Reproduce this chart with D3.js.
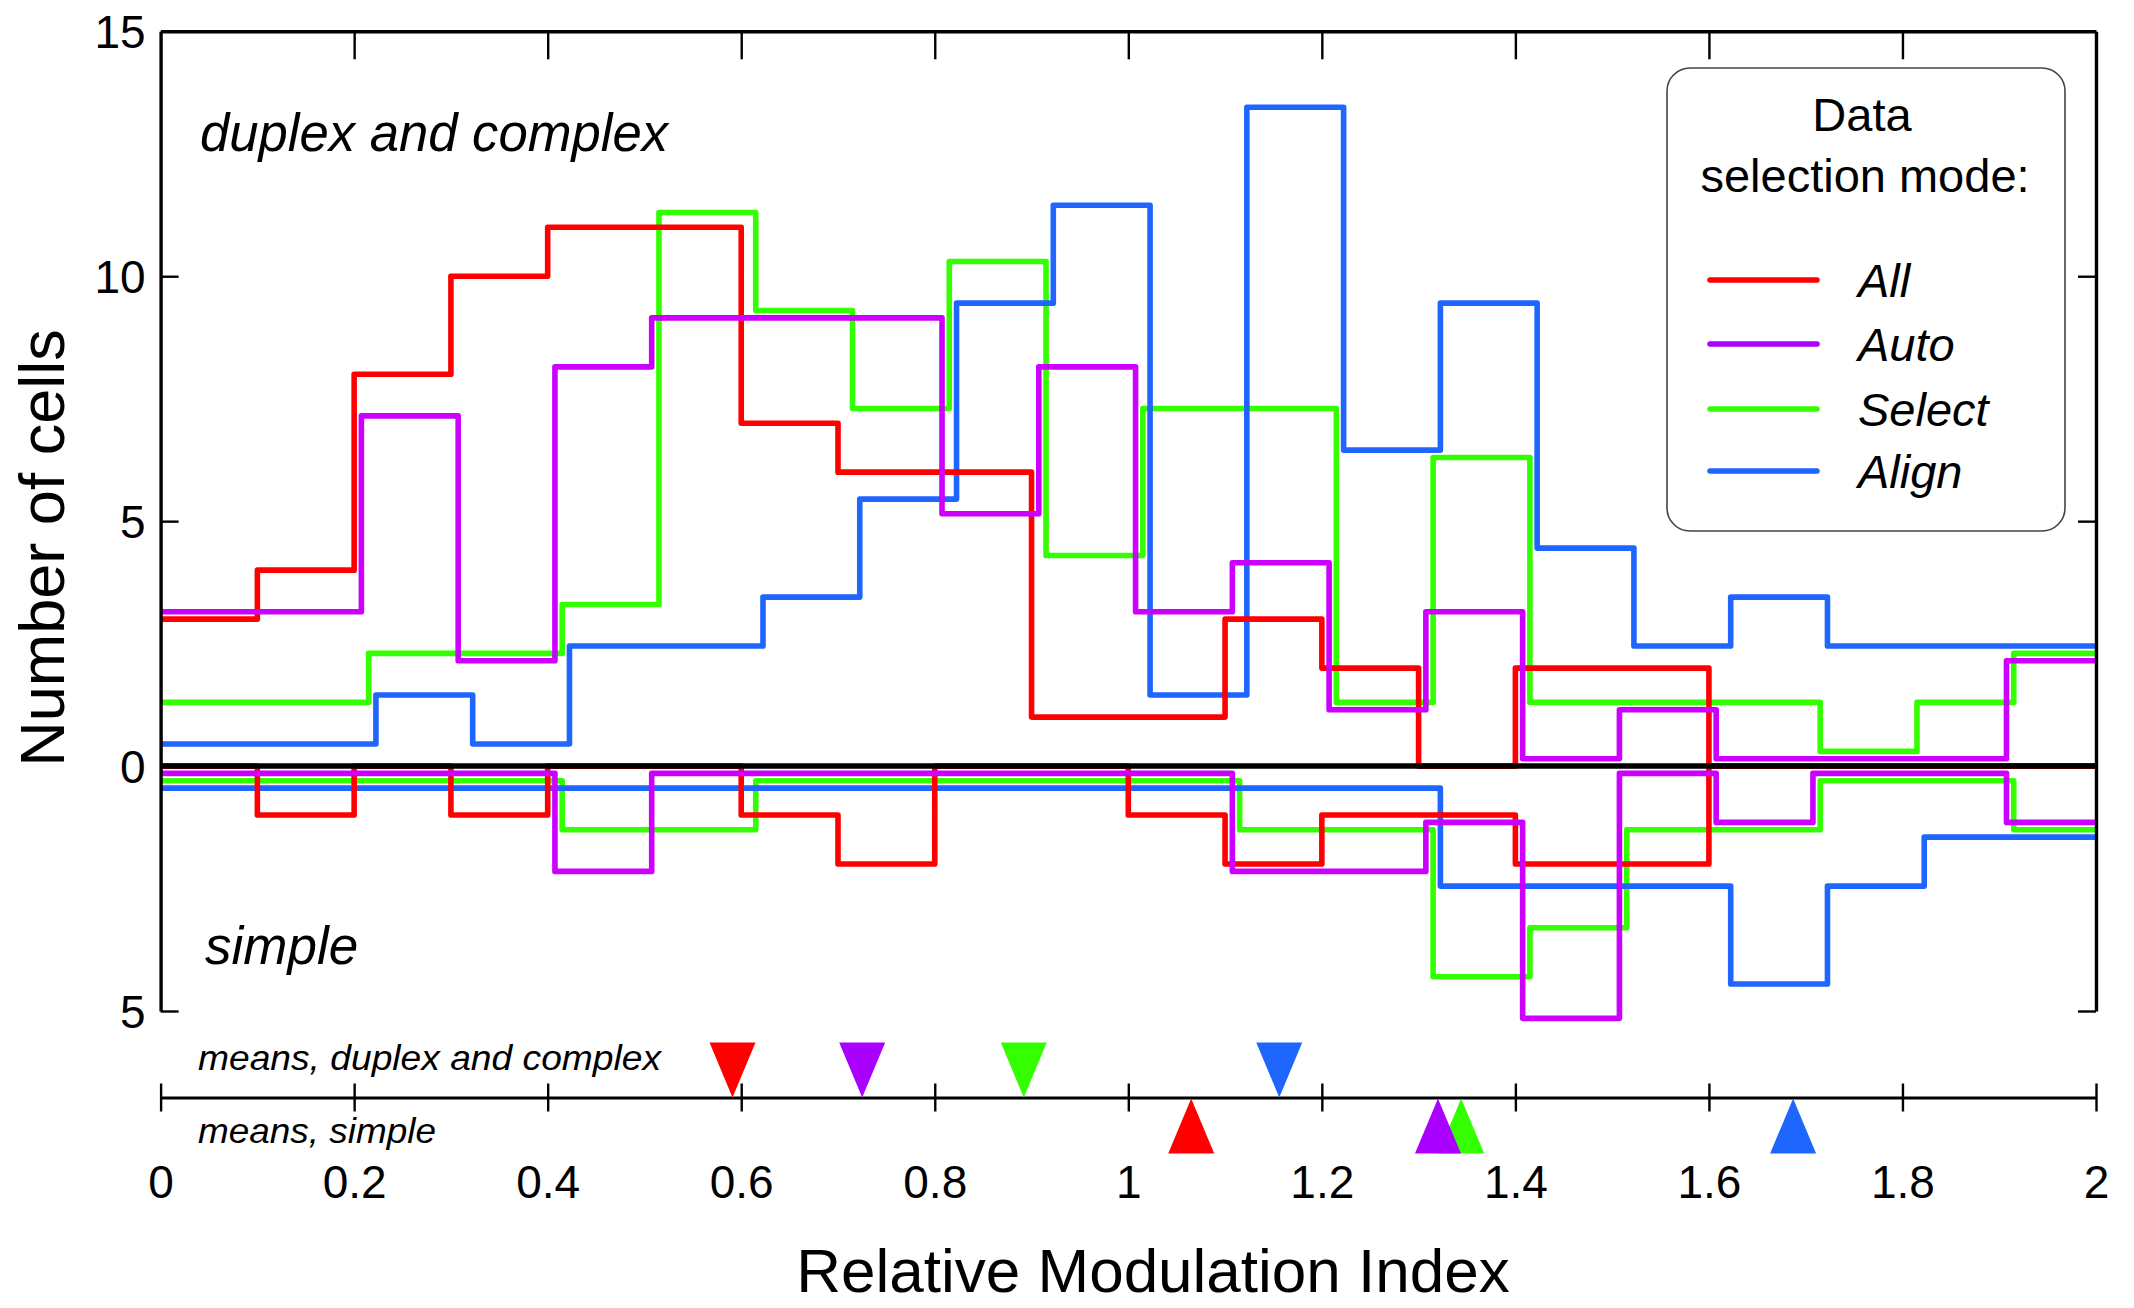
<!DOCTYPE html>
<html>
<head>
<meta charset="utf-8">
<script src="https://cdn.jsdelivr.net/npm/d3@7"></script>
<style>
  html, body { margin: 0; padding: 0; background: #fff; }
  svg { display: block; }
  text { font-family: "Liberation Sans", Arial, Helvetica, sans-serif; fill: #000; }
</style>
</head>
<body>
<svg id="chart" width="2134" height="1308"></svg>
<script>
// ---------------- DATA ----------------
const seriesNames = ["All", "Auto", "Select", "Align"];
const binStarts = [0, 0.1, 0.2, 0.3, 0.4, 0.5, 0.6, 0.7, 0.8, 0.9, 1.0, 1.1, 1.2, 1.3, 1.4, 1.5, 1.6, 1.7, 1.8, 1.9];

// duplex and complex cells (plotted upward)
const allDuplex    = [3, 4, 8, 10, 11, 11, 7, 6, 6, 1, 1, 3, 2, 0, 2, 2, 0, 0, 0, 0];
const autoDuplex   = [3, 3, 7, 2, 8, 9, 9, 9, 5, 8, 3, 4, 1, 3, 0, 1, 0, 0, 0, 2];
const selectDuplex = [1, 1, 2, 2, 3, 11, 9, 7, 10, 4, 7, 7, 1, 6, 1, 1, 1, 0, 1, 2];
const alignDuplex  = [0, 0, 1, 0, 2, 2, 3, 5, 9, 11, 1, 13, 6, 9, 4, 2, 3, 2, 2, 2];

// simple cells (plotted downward)
const allSimple    = [0, 1, 0, 1, 0, 0, 1, 2, 0, 0, 1, 2, 1, 1, 2, 2, 0, 0, 0, 0];
const autoSimple   = [0, 0, 0, 0, 2, 0, 0, 0, 0, 0, 0, 2, 2, 1, 5, 0, 1, 0, 0, 1];
const selectSimple = [0, 0, 0, 0, 1, 1, 0, 0, 0, 0, 0, 1, 1, 4, 3, 1, 1, 0, 0, 1];
const alignSimple  = [0, 0, 0, 0, 0, 0, 0, 0, 0, 0, 0, 0, 0, 2, 2, 2, 4, 2, 1, 1];

// means (markers)
const meansDuplex = [0.591, 0.725, 0.892, 1.156];
const meansSimple = [1.065, 1.320, 1.344, 1.687];

// ticks
const xTickValues = [0, 0.2, 0.4, 0.6, 0.8, 1, 1.2, 1.4, 1.6, 1.8, 2];
const xTickLabels = ["0", "0.2", "0.4", "0.6", "0.8", "1", "1.2", "1.4", "1.6", "1.8", "2"];
const yTickValues = [15, 10, 5, 0, -5];
const yTickLabels = ["15", "10", "5", "0", "5"];

// ---------------- STYLE ----------------
const lineColors   = ["#ff0000", "#cc00ff", "#33ff00", "#1f66ff"];
const markerColors = ["#ff0000", "#aa00ff", "#33ff00", "#1f66ff"];
const drawOrder = [2, 3, 0, 1];
const stepDX = 0.0075, stepDY = 0.15;   // small per-series staggering

// ---------------- SCALES ----------------
const svg = d3.select("#chart");
const x = d3.scaleLinear().domain([0, 2]).range([160.6, 2096]);
const y = d3.scaleLinear().domain([-5, 15]).range([1011, 31.3]);

const duplex = [allDuplex, autoDuplex, selectDuplex, alignDuplex];
const simple = [allSimple, autoSimple, selectSimple, alignSimple];

function pts(vals, k, sign) {
  const dx = k * stepDX, dy = k * stepDY;
  const p = vals.map((v, i) => [i === 0 ? 0 : binStarts[i] + dx, sign * (v + dy)]);
  p.push([2, sign * (vals[vals.length - 1] + dy)]);
  return p;
}
const line = d3.line().x(d => x(d[0])).y(d => y(d[1])).curve(d3.curveStepAfter);

const gSeries = svg.append("g");
drawOrder.forEach(k => {
  [[duplex[k], 1], [simple[k], -1]].forEach(([vals, s]) => {
    gSeries.append("path")
      .attr("d", line(pts(vals, k, s)))
      .attr("fill", "none")
      .attr("stroke", lineColors[k])
      .attr("stroke-width", 5.6)
      .attr("stroke-linejoin", "round")
      .attr("stroke-linecap", "butt");
  });
});

// zero line
svg.append("line")
  .attr("x1", x(0)).attr("x2", x(2))
  .attr("y1", y(0)).attr("y2", y(0))
  .attr("stroke", "#000").attr("stroke-width", 5.5);

// ---------------- FRAME / AXES ----------------
function styleAxis(g, w) {
  g.selectAll(".domain").attr("stroke", "#000").attr("stroke-width", w);
  g.selectAll(".tick line").attr("stroke", "#000").attr("stroke-width", 2.4);
}

// left axis (ticks inward, labels outside)
const gl = svg.append("g").attr("transform", `translate(${x(0)},0)`)
  .call(d3.axisLeft(y).tickValues(yTickValues).tickSizeInner(-18).tickSizeOuter(0).tickPadding(15)
    .tickFormat((d, i) => yTickLabels[i]));
styleAxis(gl, 3.4);
gl.selectAll(".tick text").attr("font-size", 46).attr("font-family", "Liberation Sans, Arial, sans-serif")
  .attr("dy", "0.36em");

// right axis
const gr = svg.append("g").attr("transform", `translate(${x(2)},0)`)
  .call(d3.axisLeft(y).tickValues(yTickValues).tickSizeInner(18).tickSizeOuter(0).tickFormat(""));
styleAxis(gr, 3.4);

// top axis
const gt = svg.append("g").attr("transform", `translate(0,${y(15)})`)
  .call(d3.axisTop(x).tickValues(xTickValues.slice(1, -1)).tickSizeInner(-28).tickSizeOuter(0).tickFormat(""));
styleAxis(gt, 3.4);

// means axis
const meanAxisY = 1097.5;
const gb = svg.append("g").attr("transform", `translate(0,${meanAxisY})`)
  .call(d3.axisBottom(x).tickValues(xTickValues).tickSizeInner(14).tickSizeOuter(0).tickPadding(54)
    .tickFormat((d, i) => xTickLabels[i]));
styleAxis(gb, 3);
gb.selectAll(".tick line").attr("y1", -14);
gb.selectAll(".tick text").attr("font-size", 46).attr("font-family", "Liberation Sans, Arial, sans-serif");

// mean markers
const triW = 46, triH = 55;
[3, 2, 1, 0].forEach(k => {
  const cx = x(meansDuplex[k]);
  svg.append("path")
    .attr("d", `M${cx - triW / 2},${meanAxisY - triH} L${cx + triW / 2},${meanAxisY - triH} L${cx},${meanAxisY} Z`)
    .attr("fill", markerColors[k]);
  const cu = x(meansSimple[k]);
  svg.append("path")
    .attr("d", `M${cu - triW / 2},${meanAxisY + triH + 1} L${cu + triW / 2},${meanAxisY + triH + 1} L${cu},${meanAxisY + 1} Z`)
    .attr("fill", markerColors[k]);
});

// ---------------- TEXT ----------------
svg.append("text").attr("x", 200).attr("y", 151).attr("font-size", 53).attr("font-style", "italic")
  .attr("textLength", 468).attr("lengthAdjust", "spacingAndGlyphs")
  .text("duplex and complex");
svg.append("text").attr("x", 205).attr("y", 964).attr("font-size", 53).attr("font-style", "italic")
  .text("simple");
svg.append("text").attr("x", 198).attr("y", 1070).attr("font-size", 35).attr("font-style", "italic")
  .attr("textLength", 463).attr("lengthAdjust", "spacingAndGlyphs")
  .text("means, duplex and complex");
svg.append("text").attr("x", 198).attr("y", 1143).attr("font-size", 35).attr("font-style", "italic")
  .attr("textLength", 238).attr("lengthAdjust", "spacingAndGlyphs")
  .text("means, simple");

svg.append("text").attr("x", 1153).attr("y", 1292).attr("font-size", 62).attr("text-anchor", "middle")
  .text("Relative Modulation Index");
svg.append("text").attr("transform", "translate(64,548) rotate(-90)").attr("font-size", 63)
  .attr("text-anchor", "middle").text("Number of cells");

// ---------------- LEGEND ----------------
const lg = svg.append("g");
lg.append("rect").attr("x", 1667).attr("y", 68).attr("width", 398).attr("height", 463)
  .attr("rx", 23).attr("ry", 23).attr("fill", "#fff").attr("stroke", "#444").attr("stroke-width", 1.6);
lg.append("text").attr("x", 1862).attr("y", 131).attr("font-size", 47).attr("text-anchor", "middle").text("Data");
lg.append("text").attr("x", 1865).attr("y", 192).attr("font-size", 47).attr("text-anchor", "middle").text("selection mode:");
const legendY = [280, 344, 409, 471];
seriesNames.forEach((name, k) => {
  lg.append("line").attr("x1", 1710).attr("x2", 1817).attr("y1", legendY[k]).attr("y2", legendY[k])
    .attr("stroke", markerColors[k]).attr("stroke-width", 5.5).attr("stroke-linecap", "round");
  lg.append("text").attr("x", 1858).attr("y", legendY[k] + 17).attr("font-size", 47)
    .attr("font-style", "italic").text(name);
});
</script>
</body>
</html>
